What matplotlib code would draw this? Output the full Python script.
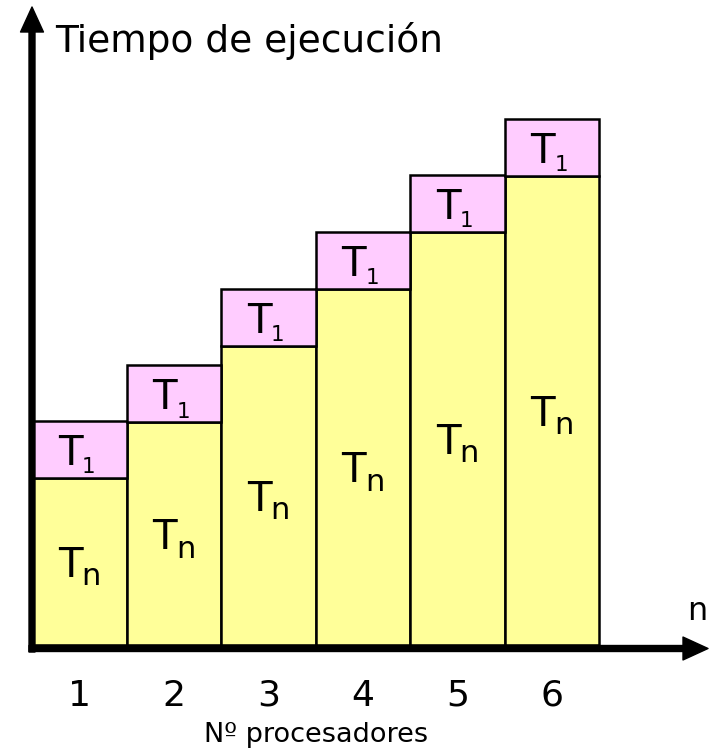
import matplotlib.pyplot as plt

# data: execution time split in Tn (parallel part) and T1 (sequential part)
n_proc = [1, 2, 3, 4, 5, 6]
t_n = [2.93, 3.91, 5.25, 6.25, 7.25, 8.23]
t_1 = [1.0, 1.0, 1.0, 1.0, 1.0, 1.0]
tick_labels = ['1', '2', '3', '4', '5', '6']

W, H = 709, 749
fig = plt.figure(figsize=(W / 100, H / 100), dpi=100)

# axes placed in pixels: first bar starts at x=32.5, baseline at y=645
bar_px = 94.5
unit_px = 57.0
bar0 = 32.5
ax_left, ax_right, ax_base = 25, 709, 645
ax = fig.add_axes([ax_left / W, (H - ax_base) / H, (ax_right - ax_left) / W, ax_base / H])
ax.set_xlim(0.5 - (bar0 - ax_left) / bar_px, 0.5 + (ax_right - bar0) / bar_px)
ax.set_ylim(0, ax_base / unit_px)

def px_x(p):
    return 0.5 + (p - bar0) / bar_px

def px_y(p):
    return (ax_base - p) / unit_px

PT = 0.72  # points per pixel at dpi 100

yellow = '#FFFF99'
pink = '#FFCCFF'

ax.bar(n_proc, t_n, width=1.0, color=yellow, edgecolor='black', linewidth=1.8, zorder=2)
ax.bar(n_proc, t_1, width=1.0, bottom=t_n, color=pink, edgecolor='black', linewidth=1.8, zorder=2)

def seg_label(x, mid, sub, sub_size):
    ax.annotate('T', xy=(x, mid), xytext=(-22 * PT, -15.5 * PT), textcoords='offset points',
                ha='left', va='baseline', fontsize=29, zorder=3)
    ax.annotate(sub, xy=(x, mid), xytext=(2 * PT, -24 * PT), textcoords='offset points',
                ha='left', va='baseline', fontsize=sub_size, zorder=3)

for x, tn, t1 in zip(n_proc, t_n, t_1):
    seg_label(x, tn / 2, 'n', 22)
    seg_label(x, tn + t1 / 2, '1', 15.5)

for s in ax.spines.values():
    s.set_visible(False)
ax.set_xticks([])
ax.set_yticks([])

for x, lab in zip(n_proc, tick_labels):
    ax.text(x, px_y(706), lab, fontsize=26, ha='center', va='baseline', clip_on=False)
ax.text(3.5, px_y(742), 'Nº procesadores', fontsize=19.5, ha='center', va='baseline', clip_on=False)

# axis arrows
arrow = dict(facecolor='black', edgecolor='black', width=4.3, headwidth=16.5, headlength=18, shrink=0)
ax.annotate('', xy=(px_x(32), px_y(7)), xytext=(px_x(32), px_y(652)),
            arrowprops=arrow, annotation_clip=False, zorder=4)
ax.annotate('', xy=(px_x(708), px_y(648.5)), xytext=(px_x(29), px_y(648.5)),
            arrowprops=arrow, annotation_clip=False, zorder=4)

ax.text(px_x(55), px_y(52), 'Tiempo de ejecución', fontsize=27, ha='left', va='baseline')
ax.text(px_x(687), px_y(620), 'n', fontsize=23, ha='left', va='baseline')

fig.savefig('out.png', dpi=100)
